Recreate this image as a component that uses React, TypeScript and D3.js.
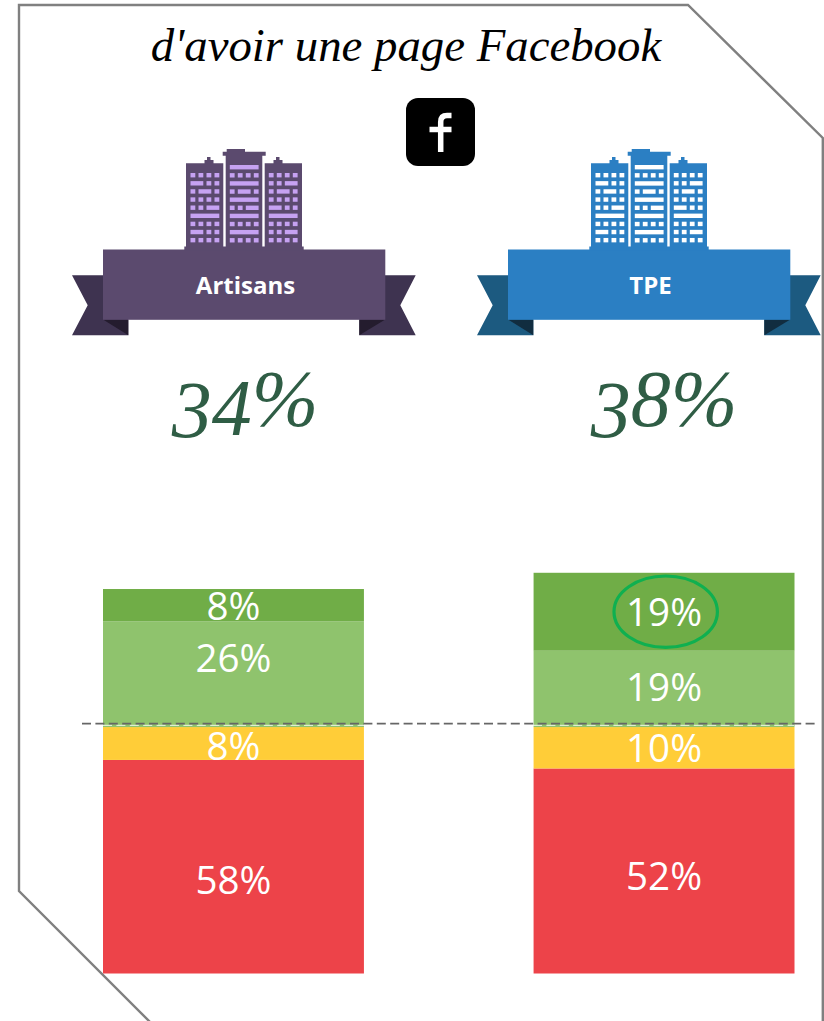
import React from "react";
import * as d3 from "d3";

const categories = ["Artisans", "TPE"];
const headline = ["34%", "38%"];
const segmentNames = ["Oui tout à fait", "Oui plutôt", "Non plutôt pas", "Non pas du tout"];
const artisansLabels = ["8%", "26%", "8%", "58%"];
const tpeLabels = ["19%", "19%", "10%", "52%"];
// drawn heights (the source graphic is not strictly proportional to its labels)
const artisansDrawn = [8, 26, 8.1, 52.6];
const tpeDrawn = [19.2, 18.8, 10.2, 50.5];
const segmentColors = ["#70AD47", "#8FC36D", "#FFCD38", "#ED4349"];

const labelNudge = [
  [1, -16, 2.5, 13],
  [0, -2, 0, 5],
];

const themes = [
  { main: "#5B4A6E", tail: "#3E3350", fold: "#241C2E", window: "#C6A2F2" },
  { main: "#2B7FC3", tail: "#1C5A80", fold: "#112D40", window: "#FFFFFF" },
];

const leftTower = [[1,1,1,1],[2,1,1],[1,2,1],[1,1,1,1],[1,1,2],[4],[1,1,1,1],[2,1,1],[1,1,1,1]];
const centerTower = [[4],[1,1,1,1],[4],[1,2,1],[4],[1,1,2],[4],[1,1,1,1],[4],[1,1,1,1]];
const rightTower = [[1,1,1,1],[1,1,2],[1,2,1],[1,1,1,1],[2,1,1],[4],[1,1,1,1],[1,1,2],[1,1,1,1]];

const SERIF = "'Liberation Serif', serif";
const SANS = "'Open Sans', sans-serif";

// Georgia's old-style figures drop below the baseline
const oldStyleDrop: Record<string, number> = { "3": 11, "4": 9 };

function Windows({ x, y0, rows, color }: { x: number; y0: number; rows: number[][]; color: string }) {
  const pitchX = 8;
  const pitchY = 8.12;
  const w = 4.8;
  const h = 4.4;
  const out: React.ReactNode[] = [];
  rows.forEach((row, r) => {
    let col = 0;
    row.forEach((span, k) => {
      out.push(
        <rect key={`${r}-${k}`} x={x + col * pitchX} y={y0 + r * pitchY} width={w + (span - 1) * pitchX} height={h} fill={color} />
      );
      col += span;
    });
  });
  return <g>{out}</g>;
}

function Badge({ index, dx }: { index: number; dx: number }) {
  const t = themes[index];
  return (
    <g transform={`translate(${dx},0)`}>
      <path fill={t.tail} d="M72,275.3H128.3V335.3H72L87.7,305.3Z" />
      <path fill={t.tail} d="M415.7,275.3H359.3V335.3H415.7L400.3,305.3Z" />
      <path fill={t.fold} d="M103,319.5H128.3V335.3Z" />
      <path fill={t.fold} d="M385.3,319.5H359.3V335.3Z" />
      <rect x={103} y={249.5} width={282.3} height={70.3} fill={t.main} />
      <rect x={184.3} y={246.5} width={119.4} height={4} fill={t.main} />
      <path fill={t.main} d="M186,248V163.3H204.5V160H207V157H210.5V160H213.5V163.3H223.3V248Z" />
      <path fill={t.main} d="M264.7,248V163.3H273.5V160H276V157H279.5V160H282.5V163.3H302V248Z" />
      <path fill={t.main} d="M225.7,248V155.7H222.7V151.7H226.7V149H245V151.7H265.7V155.7H262.3V248Z" />
      <Windows x={190.5} y0={173} rows={leftTower} color={t.window} />
      <Windows x={229.8} y0={165} rows={centerTower} color={t.window} />
      <Windows x={268.8} y0={173} rows={rightTower} color={t.window} />
      <text x={245.5} y={294} textAnchor="middle" fontFamily={SANS} fontWeight={700} fontSize={24} fill="#fff">
        {categories[index]}
      </text>
    </g>
  );
}

export default function App() {
  const x = d3.scaleBand<string>().domain(categories).range([103, 794.5]).paddingInner(0.394).paddingOuter(0);
  const pxPerPoint = 4.06;
  const zeroY = 973.5;
  const y = d3.scaleLinear().domain([0, 100]).range([zeroY, zeroY - 100 * pxPerPoint]);

  const stacks = [artisansDrawn, tpeDrawn];
  const labels = [artisansLabels, tpeLabels];

  const outline = d3.line()([
    [151, 1023], [19, 891], [19, 5], [688, 5], [822.8, 138], [822.8, 1023],
  ]) as string;

  return (
    <svg width={824} height={1021} viewBox="0 0 824 1021" style={{ position: "absolute", left: 0, top: 0, display: "block", background: "#fff" }}>
      <path d={outline} fill="none" stroke="#808080" strokeWidth={2.4} />
      <text x={406} y={61} textAnchor="middle" fontFamily={SERIF} fontStyle="italic" fontSize={46.8} fill="#000">
        d'avoir une page Facebook
      </text>

      <rect x={406} y={98} width={69} height={68} rx={12} fill="#000" />
      <path d="M440.7,152V122Q440.7,115.5 447,115.5H451.5M429.5,129.5H451.5" fill="none" stroke="#fff" strokeWidth={5.5} />

      <Badge index={0} dx={0} />
      <Badge index={1} dx={405} />

      {categories.map((c, i) => (
        <text key={c} x={[245, 664][i]} y={426} textAnchor="middle" fontFamily={SERIF} fontStyle="italic" fontSize={80} fill="#2F5D45">
          {headline[i].split("").map((ch, k, arr) => {
            const drop = oldStyleDrop[ch] ?? 0;
            const prev = k > 0 ? oldStyleDrop[arr[k - 1]] ?? 0 : 0;
            return (
              <tspan key={k} dy={drop - prev}>
                {ch}
              </tspan>
            );
          })}
        </text>
      ))}

      {categories.map((c, i) => {
        const cum = d3.cumsum([...stacks[i]].reverse());
        const reversedColors = [...segmentColors].reverse();
        return (
          <g key={c}>
            {[...stacks[i]].reverse().map((v, k) => (
              <rect
                key={segmentNames[3 - k]}
                x={x(c)}
                width={x.bandwidth()}
                y={y(cum[k])}
                height={y(cum[k] - v) - y(cum[k])}
                fill={reversedColors[k]}
              />
            ))}
          </g>
        );
      })}

      <line x1={103} x2={364} y1={725.4} y2={725.4} stroke="#fff" strokeOpacity={0.7} strokeWidth={1.2} strokeDasharray="9 4.4" />
      <line x1={533} x2={794} y1={725.4} y2={725.4} stroke="#fff" strokeOpacity={0.7} strokeWidth={1.2} strokeDasharray="9 4.4" />
      <line x1={82} x2={817} y1={723.7} y2={723.7} stroke="#666" strokeWidth={1.8} strokeDasharray="9 4.4" />

      {categories.map((c, i) => {
        const cum = d3.cumsum([...stacks[i]].reverse());
        return labels[i].map((lab, k) => {
          const rk = 3 - k;
          const mid = (y(cum[rk]) + y(cum[rk] - stacks[i][k])) / 2;
          return (
            <text
              key={k}
              x={x(c)! + x.bandwidth() / 2}
              y={mid + labelNudge[i][k]}
              dy="0.36em"
              textAnchor="middle"
              fontFamily={SANS}
              fontWeight={400}
              fontSize={38.6}
              fill="#fff"
            >
              {lab}
            </text>
          );
        });
      })}

      <ellipse cx={665.7} cy={611.7} rx={51.7} ry={35.7} fill="none" stroke="#0FB050" strokeWidth={3.2} />
    </svg>
  );
}
